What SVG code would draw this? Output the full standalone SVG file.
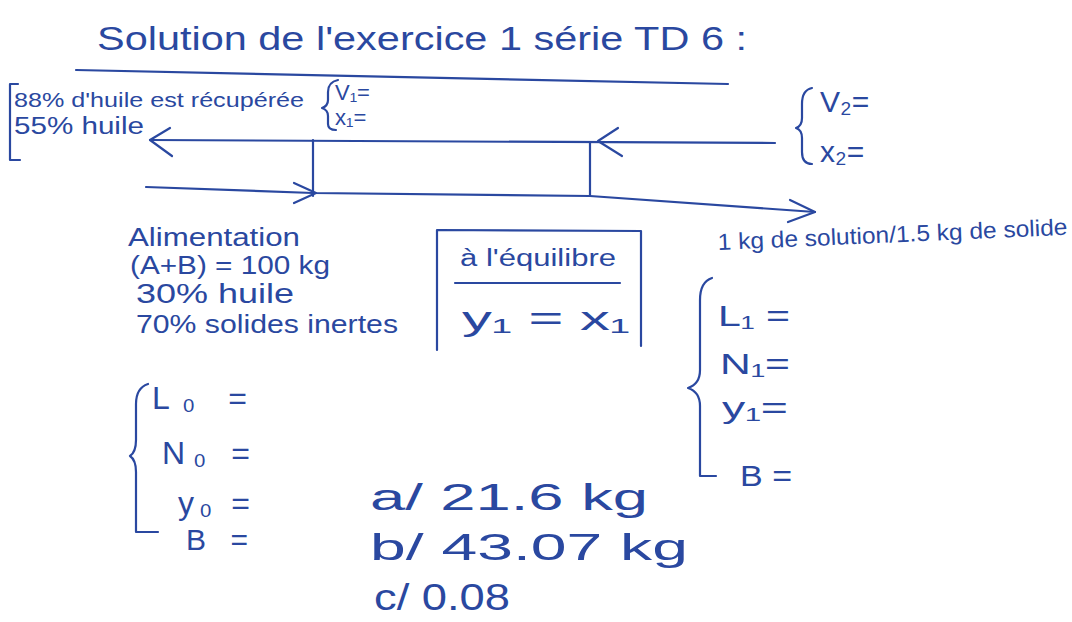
<svg xmlns="http://www.w3.org/2000/svg" width="1072" height="622" viewBox="0 0 1072 622">
<defs>
<style>
.ink{fill:none;stroke:#2a48a0;stroke-width:2.2;stroke-linecap:round;stroke-linejoin:round}
.t{fill:#2a48a0;font-family:"Liberation Sans","DejaVu Sans",sans-serif}
</style>
</defs>
<rect width="1072" height="622" fill="#ffffff"/>
<g id="title">
<text class="t" x="97" y="50" font-size="34" textLength="650" lengthAdjust="spacingAndGlyphs">Solution de l'exercice 1 série TD 6 :</text>
<path class="ink" d="M76 70 L728 84"/>
</g>
<g id="topleft">
<path class="ink" d="M18 84 L10 84 L10 160 L20 160"/>
<text class="t" x="14" y="107" font-size="21" textLength="290" lengthAdjust="spacingAndGlyphs">88% d'huile est récupérée</text>
<text class="t" x="14" y="134" font-size="23" textLength="130" lengthAdjust="spacingAndGlyphs">55% huile</text>
</g>
<g id="v1x1">
<path class="ink" d="M338 80 Q328 82 328 92 L328 100 Q328 106 322 108 Q328 110 328 116 L328 124 Q328 130 336 130"/>
<text class="t" x="335" y="100" font-size="22">V₁=</text>
<text class="t" x="335" y="125" font-size="22">x₁=</text>
</g>
<g id="v2x2">
<path class="ink" d="M812 88 Q802 90 802 104 L802 118 Q802 126 796 128 Q802 130 802 138 L802 152 Q802 164 812 164"/>
<text class="t" x="820" y="112" font-size="30">V₂=</text>
<text class="t" x="820" y="162" font-size="30">x₂=</text>
</g>
<g id="connectors">
<path class="ink" d="M150 140 L775 143"/>
<path class="ink" d="M170 128 L150 140 L172 156"/>
<path class="ink" d="M618 128 L598 141 L622 156"/>
<path class="ink" d="M313 140 L313 196"/>
<path class="ink" d="M590 142 L590 195"/>
<path class="ink" d="M146 187 L313 193 L590 196 L815 212"/>
<path class="ink" d="M294 183 L316 193 L294 203"/>
<path class="ink" d="M790 200 L815 212 L788 222"/>
</g>
<g id="alimentation">
<text class="t" x="128" y="246" font-size="25" textLength="172" lengthAdjust="spacingAndGlyphs">Alimentation</text>
<text class="t" x="130" y="274" font-size="25" textLength="200" lengthAdjust="spacingAndGlyphs">(A+B) = 100 kg</text>
<text class="t" x="136" y="303" font-size="28" textLength="158" lengthAdjust="spacingAndGlyphs">30% huile</text>
<text class="t" x="136" y="333" font-size="26" textLength="262" lengthAdjust="spacingAndGlyphs">70% solides inertes</text>
</g>
<g id="equilibre">
<path class="ink" d="M437 350 L437 230 L641 231 L641 346"/>
<text class="t" x="460" y="266" font-size="23" textLength="156" lengthAdjust="spacingAndGlyphs">à l'équilibre</text>
<path class="ink" d="M455 283 L620 283"/>
<text class="t" x="462" y="330" font-size="34" textLength="168" lengthAdjust="spacingAndGlyphs">y₁ = x₁</text>
</g>
<g id="ratio">
<text class="t" x="718" y="250" font-size="23" textLength="350" lengthAdjust="spacingAndGlyphs" transform="rotate(-2.5 718 250)">1 kg de solution/1.5 kg de solide</text>
</g>
<g id="right-set">
<path class="ink" d="M712 278 Q700 282 700 300 L700 370 Q700 384 688 388 Q700 392 700 406 L700 476 L716 476"/>
<text class="t" x="718" y="326" font-size="30" textLength="72" lengthAdjust="spacingAndGlyphs">L₁ =</text>
<text class="t" x="720" y="374" font-size="30" textLength="70" lengthAdjust="spacingAndGlyphs">N₁=</text>
<text class="t" x="722" y="418" font-size="30" textLength="66" lengthAdjust="spacingAndGlyphs">y₁=</text>
<text class="t" x="740" y="486" font-size="30" textLength="52" lengthAdjust="spacingAndGlyphs">B =</text>
</g>
<g id="left-set">
<path class="ink" d="M148 384 Q136 388 136 404 L136 440 Q136 452 130 456 Q136 460 136 472 L136 532 L158 532"/>
<text class="t" x="152" y="409" font-size="32" textLength="95" lengthAdjust="spacing">L₀ =</text>
<text class="t" x="162" y="464" font-size="32" textLength="88" lengthAdjust="spacing">N₀ =</text>
<text class="t" x="178" y="514" font-size="32" textLength="72" lengthAdjust="spacing">y₀ =</text>
<text class="t" x="186" y="550" font-size="30" textLength="62" lengthAdjust="spacing">B =</text>
</g>
<g id="answers">
<text class="t" x="370" y="510" font-size="36" textLength="278" lengthAdjust="spacingAndGlyphs">a/ 21.6 kg</text>
<text class="t" x="370" y="560" font-size="36" textLength="318" lengthAdjust="spacingAndGlyphs">b/ 43.07 kg</text>
<text class="t" x="374" y="610" font-size="36" textLength="136" lengthAdjust="spacingAndGlyphs">c/ 0.08</text>
</g>
</svg>
